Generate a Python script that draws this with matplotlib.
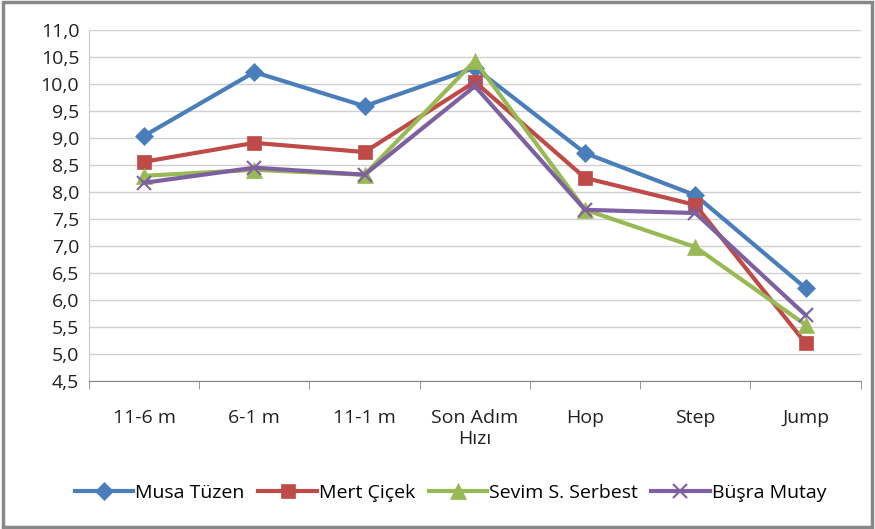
import numpy as np
import matplotlib.pyplot as plt
from matplotlib.ticker import FixedLocator, FuncFormatter

categories = ["11-6 m", "6-1 m", "11-1 m", "Son Adım\nHızı", "Hop", "Step", "Jump"]
musa = [9.04, 10.22, 9.59, 10.30, 8.72, 7.94, 6.22]
mert = [8.56, 8.91, 8.74, 10.04, 8.26, 7.76, 5.20]
sevim = [8.30, 8.41, 8.32, 10.43, 7.67, 6.98, 5.54]
busra = [8.17, 8.45, 8.32, 9.96, 7.67, 7.61, 5.72]
names = ["Musa Tüzen", "Mert Çiçek", "Sevim S. Serbest", "Büşra Mutay"]

plt.rcParams['font.family'] = ['Open Sans', 'DejaVu Sans']

fig = plt.figure(figsize=(8.75, 5.29), dpi=100)
ax = fig.add_axes([0.1017, 0.2798, 0.882, 0.6635])

x = np.arange(len(categories))
styles = [
    (musa, '#4A7EBB', 'D', 9),
    (mert, '#BE4B48', 's', 10),
    (sevim, '#98B954', '^', 11),
    (busra, '#7D60A0', 'x', 10),
]
for (vals, col, mk, ms), name in zip(styles, names):
    ax.plot(x, vals, color=col, lw=3, marker=mk, markersize=ms,
            markeredgewidth=1.5 if mk == 'x' else 0.5, markeredgecolor=col,
            label=name, zorder=3)

ax.set_xlim(-0.5, 6.5)
ax.set_ylim(4.5, 11.0)
ax.set_yticks(np.arange(4.5, 11.01, 0.5))
ax.yaxis.set_major_formatter(FuncFormatter(lambda v, p: f"{v:.1f}".replace('.', ',')))
ax.set_xticks(x)
ax.set_xticklabels(categories, linespacing=1.25)
ax.xaxis.set_minor_locator(FixedLocator(np.arange(-0.5, 6.51, 1)))
ax.tick_params(axis='x', which='major', length=0, pad=20, labelsize=14, colors='#222222')
ax.tick_params(axis='x', which='minor', length=6, direction='out', color='#868686')
ax.tick_params(axis='y', length=0, pad=7, labelsize=14, colors='#222222')

ax.grid(axis='y', color='#D0D0D0', lw=1)
ax.set_axisbelow(True)
for s in ['top', 'right']:
    ax.spines[s].set_visible(False)
ax.spines['left'].set_color('#C8C8C8')
ax.spines['bottom'].set_color('#868686')

fig.legend(loc='center', bbox_to_anchor=(0.515, 0.068), ncol=4, frameon=False,
           fontsize=14, handlelength=3.0, handletextpad=0.1, columnspacing=0.7)

fig.patches.append(plt.Rectangle((0.003, 0.003), 0.994, 0.994, transform=fig.transFigure,
                                 fill=False, edgecolor='#888888', lw=2.5))

fig.savefig("out.png", dpi=100)
